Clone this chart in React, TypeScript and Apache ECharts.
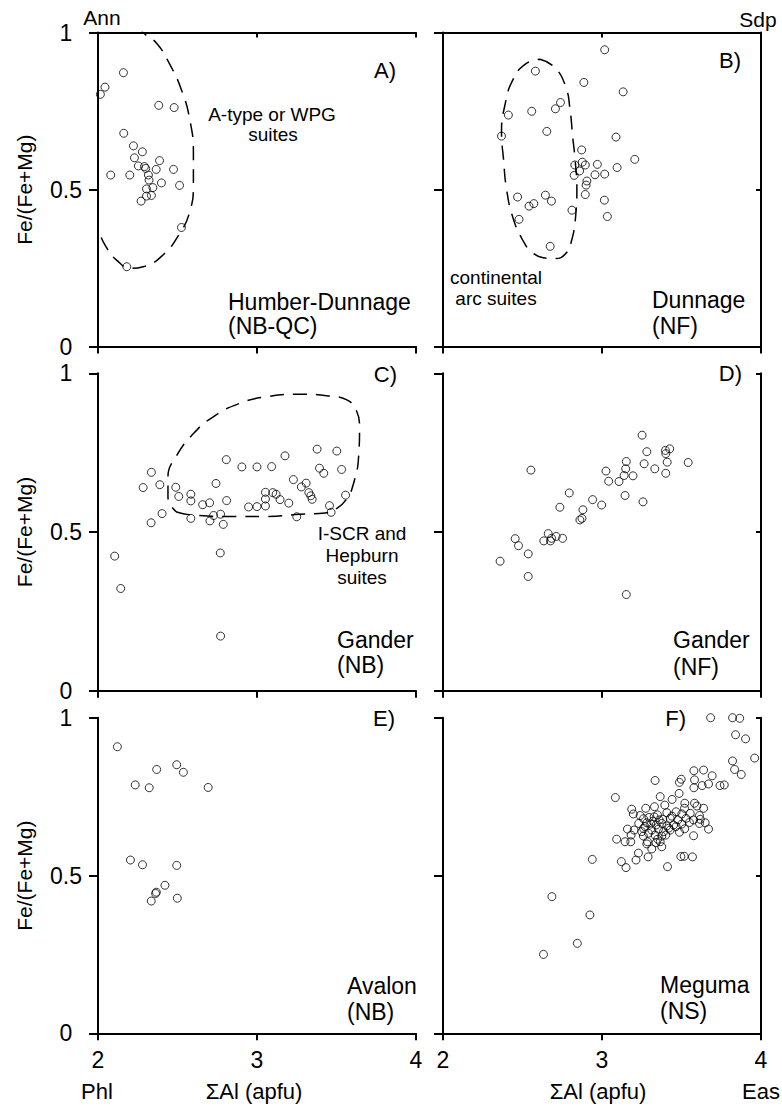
import React, { useEffect, useRef } from 'react';
import * as echarts from 'echarts';

const FONT = '"Liberation Sans", Arial, Helvetica, sans-serif';

// Panel data: [ΣAl (apfu), Fe/(Fe+Mg)]
const panelA: number[][] = [
  [2.015, 0.803], [2.044, 0.826], [2.16, 0.872], [2.382, 0.768], [2.479, 0.761],
  [2.162, 0.679], [2.223, 0.639], [2.279, 0.62], [2.229, 0.601], [2.387, 0.592],
  [2.08, 0.546], [2.2, 0.546], [2.254, 0.575], [2.292, 0.573], [2.3, 0.567],
  [2.366, 0.564], [2.475, 0.564], [2.317, 0.546], [2.321, 0.53], [2.399, 0.521],
  [2.513, 0.513], [2.345, 0.506], [2.305, 0.502], [2.271, 0.463], [2.305, 0.479],
  [2.336, 0.481], [2.525, 0.379], [2.181, 0.254],
];

const panelB: number[][] = [
  [3.017, 0.945], [2.581, 0.877], [2.886, 0.841], [3.133, 0.811], [2.739, 0.777],
  [2.707, 0.757], [2.558, 0.749], [2.411, 0.737], [2.653, 0.685], [2.368, 0.67],
  [3.088, 0.667], [2.872, 0.626], [3.206, 0.596], [2.876, 0.587], [2.829, 0.578],
  [2.895, 0.578], [2.971, 0.58], [3.095, 0.57], [2.859, 0.559], [2.825, 0.545],
  [2.956, 0.547], [3.017, 0.549], [2.905, 0.527], [2.9, 0.514], [2.895, 0.484],
  [2.469, 0.476], [2.644, 0.482], [2.682, 0.463], [2.571, 0.455], [2.541, 0.447],
  [3.015, 0.466], [2.811, 0.434], [2.478, 0.405], [3.034, 0.414], [2.674, 0.319],
];

const panelC: number[][] = [
  [2.105, 0.424], [2.143, 0.322], [2.771, 0.172], [2.769, 0.434], [2.336, 0.688],
  [2.284, 0.64], [2.389, 0.649], [2.334, 0.529], [2.403, 0.558], [2.489, 0.641],
  [2.508, 0.612], [2.584, 0.619], [2.584, 0.598], [2.584, 0.543], [2.658, 0.586],
  [2.702, 0.592], [2.704, 0.535], [2.727, 0.552], [2.742, 0.653], [2.771, 0.556],
  [2.788, 0.524], [2.807, 0.728], [2.809, 0.599], [2.905, 0.705], [2.947, 0.579],
  [3.0, 0.705], [3.0, 0.58], [3.053, 0.582], [3.053, 0.604], [3.053, 0.625],
  [3.092, 0.706], [3.099, 0.624], [3.12, 0.619], [3.145, 0.602], [3.176, 0.74],
  [3.2, 0.591], [3.229, 0.665], [3.25, 0.548], [3.279, 0.642], [3.309, 0.654],
  [3.326, 0.624], [3.338, 0.614], [3.347, 0.603], [3.378, 0.761], [3.393, 0.701],
  [3.42, 0.685], [3.456, 0.583], [3.466, 0.562], [3.502, 0.755], [3.532, 0.697],
  [3.557, 0.616],
];

const panelD: number[][] = [
  [3.252, 0.805], [3.426, 0.762], [3.399, 0.757], [3.282, 0.753], [3.401, 0.747],
  [3.41, 0.72], [3.542, 0.719], [3.153, 0.722], [3.265, 0.715], [3.332, 0.699],
  [3.149, 0.699], [3.025, 0.692], [2.553, 0.695], [3.139, 0.678], [3.195, 0.677],
  [3.401, 0.685], [3.042, 0.66], [3.107, 0.659], [2.794, 0.623], [3.145, 0.615],
  [2.941, 0.602], [2.998, 0.585], [3.258, 0.595], [2.735, 0.578], [2.88, 0.57],
  [2.874, 0.543], [2.861, 0.538], [2.662, 0.495], [2.712, 0.486], [2.752, 0.48],
  [2.683, 0.48], [2.676, 0.472], [2.634, 0.472], [2.454, 0.479], [2.475, 0.457],
  [2.536, 0.431], [2.359, 0.408], [2.536, 0.36], [3.153, 0.303],
];

const panelE: number[][] = [
  [2.122, 0.908], [2.495, 0.851], [2.369, 0.836], [2.537, 0.827], [2.234, 0.787],
  [2.322, 0.778], [2.693, 0.779], [2.204, 0.549], [2.28, 0.534], [2.495, 0.532],
  [2.421, 0.469], [2.367, 0.447], [2.362, 0.443], [2.335, 0.419], [2.499, 0.428],
];

const panelF: number[][] = [
  [3.683, 1.0], [3.821, 1.0], [3.866, 0.998], [3.84, 0.946], [3.903, 0.933],
  [3.96, 0.872], [3.821, 0.863], [3.834, 0.836], [3.876, 0.82], [3.578, 0.832],
  [3.639, 0.834], [3.693, 0.816], [3.67, 0.79], [3.582, 0.803], [3.63, 0.785],
  [3.578, 0.778], [3.742, 0.785], [3.769, 0.787], [3.334, 0.801], [3.498, 0.805],
  [3.487, 0.795], [3.485, 0.76], [3.084, 0.747], [3.366, 0.75], [3.441, 0.741],
  [3.395, 0.723], [3.521, 0.729], [3.582, 0.729], [3.275, 0.713], [3.33, 0.718],
  [3.187, 0.71], [3.519, 0.713], [3.597, 0.72], [3.639, 0.713], [3.197, 0.695],
  [3.349, 0.692], [3.408, 0.699], [3.466, 0.702], [3.502, 0.695], [3.555, 0.697],
  [3.613, 0.69], [3.261, 0.68], [3.296, 0.684], [3.328, 0.686], [3.382, 0.678],
  [3.429, 0.681], [3.477, 0.676], [3.529, 0.681], [3.576, 0.676], [3.618, 0.678],
  [3.231, 0.665], [3.282, 0.667], [3.307, 0.663], [3.34, 0.66], [3.376, 0.665],
  [3.408, 0.657], [3.45, 0.66], [3.502, 0.663], [3.613, 0.665], [3.649, 0.667],
  [3.261, 0.649], [3.313, 0.644], [3.355, 0.647], [3.387, 0.639], [3.429, 0.644],
  [3.466, 0.655], [3.67, 0.647], [3.16, 0.647], [3.202, 0.644], [3.25, 0.639],
  [3.183, 0.628], [3.292, 0.634], [3.334, 0.628], [3.376, 0.625], [3.401, 0.628],
  [3.487, 0.637], [3.576, 0.626], [3.092, 0.615], [3.145, 0.607], [3.181, 0.607],
  [3.286, 0.607], [3.282, 0.6], [3.34, 0.604], [3.376, 0.591], [3.366, 0.607],
  [3.313, 0.584], [3.229, 0.571], [3.29, 0.559], [3.214, 0.549], [3.122, 0.544],
  [3.151, 0.525], [3.412, 0.528], [3.496, 0.56], [3.517, 0.561], [3.569, 0.559],
  [2.939, 0.551], [2.685, 0.433], [2.924, 0.375], [2.845, 0.285], [2.632, 0.25],
  [3.24, 0.69], [3.32, 0.672], [3.36, 0.676], [3.44, 0.688], [3.55, 0.668],
  [3.27, 0.655], [3.42, 0.65], [3.52, 0.648], [3.35, 0.615], [3.26, 0.625],
];

// Dashed field outlines (data coordinates)
const fieldA: number[][] = [
  [2.15, 1.08], [2.284, 1.0], [2.37, 0.965], [2.45, 0.9], [2.525, 0.817], [2.578, 0.721],
  [2.6, 0.615], [2.6, 0.509], [2.574, 0.424], [2.515, 0.361], [2.41, 0.292], [2.284, 0.254],
  [2.21, 0.249], [2.115, 0.276], [2.05, 0.318], [2.01, 0.36], [1.97, 0.42],
];
const fieldB: number[][] = [
  [2.61, 0.915], [2.7, 0.89], [2.77, 0.83], [2.8, 0.75], [2.815, 0.67], [2.83, 0.6],
  [2.842, 0.5], [2.835, 0.42], [2.81, 0.34], [2.77, 0.295], [2.7, 0.28], [2.63, 0.283],
  [2.56, 0.3], [2.5, 0.34], [2.44, 0.41], [2.4, 0.5], [2.38, 0.6], [2.368, 0.68],
  [2.39, 0.77], [2.44, 0.85], [2.52, 0.9], [2.61, 0.915],
];
const fieldC: number[][] = [
  [2.494, 0.563], [2.6, 0.553], [2.85, 0.549], [3.06, 0.549], [3.27, 0.556], [3.428, 0.56],
  [3.5, 0.574], [3.565, 0.605], [3.607, 0.653], [3.639, 0.737], [3.645, 0.832], [3.624, 0.884],
  [3.565, 0.916], [3.46, 0.928], [3.27, 0.934], [3.06, 0.926], [2.89, 0.905], [2.725, 0.863],
  [2.6, 0.81], [2.49, 0.737], [2.44, 0.674], [2.44, 0.61], [2.494, 0.563],
];

const X_TICKS = { min: 2, max: 4, interval: 1 };
const Y_TICKS = { min: 0, max: 1, interval: 0.5 };

const GRID_BOXES = [
  { left: 98, top: 32.5, width: 318, height: 314 },
  { left: 443, top: 32.5, width: 318, height: 314 },
  { left: 98, top: 373.3, width: 318, height: 317.4 },
  { left: 443, top: 373.3, width: 318, height: 317.4 },
  { left: 98, top: 717.7, width: 318, height: 315.6 },
  { left: 443, top: 717.7, width: 318, height: 315.6 },
];

const PANEL_DATA = [panelA, panelB, panelC, panelD, panelE, panelF];
const FIELDS: [number, number[][]][] = [[0, fieldA], [1, fieldB], [2, fieldC]];

export default function App() {
  const ref = useRef<HTMLDivElement>(null);
  useEffect(() => {
    const chart = echarts.init(ref.current!, null, { renderer: 'svg' });
    const lineStyle = { color: '#000', width: 2 };
    const xAxis: any[] = [];
    const yAxis: any[] = [];
    GRID_BOXES.forEach((_, i) => {
      xAxis.push({
        gridIndex: i, type: 'value', ...X_TICKS, position: 'bottom',
        axisLine: { show: true, onZero: false, lineStyle },
        axisTick: { show: true, inside: false, length: 7, lineStyle },
        axisLabel: { show: i >= 4, fontSize: 23, color: '#000', margin: 15, fontFamily: FONT },
        splitLine: { show: false },
      });
      yAxis.push({
        gridIndex: i, type: 'value', ...Y_TICKS, position: 'left',
        axisLine: { show: true, onZero: false, lineStyle },
        axisTick: { show: true, inside: false, length: 9, lineStyle },
        axisLabel: { show: i % 2 === 0, fontSize: 23, color: '#000', margin: 32, align: 'center', fontFamily: FONT },
        splitLine: { show: false },
      });
    });
    [0, 1].forEach((i) => {
      xAxis.push({
        gridIndex: i, type: 'value', ...X_TICKS, position: 'top',
        axisLine: { show: true, onZero: false, lineStyle },
        axisTick: { show: true, inside: true, length: 5, lineStyle },
        axisLabel: { show: false }, splitLine: { show: false },
      });
    });
    [1, 3, 5].forEach((i) => {
      yAxis.push({
        gridIndex: i, type: 'value', ...Y_TICKS, position: 'right',
        axisLine: { show: true, onZero: false, lineStyle },
        axisTick: { show: true, inside: true, length: 5, lineStyle },
        axisLabel: { show: false }, splitLine: { show: false },
      });
    });

    const series: any[] = PANEL_DATA.map((d, i) => ({
      type: 'scatter', xAxisIndex: i, yAxisIndex: i, data: d,
      symbol: 'circle', symbolSize: 8,
      itemStyle: { color: 'rgba(255,255,255,0)', borderColor: '#000', borderWidth: 1 },
      silent: true,
    }));
    FIELDS.forEach(([i, d]) => {
      series.push({
        type: 'line', xAxisIndex: i, yAxisIndex: i, data: d, smooth: 0.5,
        symbol: 'none', clip: true, silent: true,
        lineStyle: { color: '#000', width: 1.5, type: [14, 9] },
      });
    });

    const txt = (text: string, x: number, y: number, size: number, align = 'left', rotation = 0) => ({
      type: 'text', x, y, rotation, silent: true,
      style: {
        text, fill: '#000', fontSize: size, fontFamily: FONT,
        align, textAlign: align, verticalAlign: 'middle', textVerticalAlign: 'middle',
      },
    });

    const graphic: any[] = [
      txt('Ann', 102, 17, 21, 'center'),
      txt('Sdp', 758, 19, 21, 'center'),
      txt('Fe/(Fe+Mg)', 24, 189.6, 21, 'center', Math.PI / 2),
      txt('Fe/(Fe+Mg)', 24, 532, 21, 'center', Math.PI / 2),
      txt('Fe/(Fe+Mg)', 24, 875.6, 21, 'center', Math.PI / 2),
      txt('A)', 396, 70, 22, 'right'),
      txt('B)', 741, 60, 22, 'right'),
      txt('C)', 397, 374, 22, 'right'),
      txt('D)', 742, 373, 22, 'right'),
      txt('E)', 395, 718, 22, 'right'),
      txt('F)', 686, 718, 22, 'right'),
      txt('Humber-Dunnage', 228, 302, 23),
      txt('(NB-QC)', 228, 326, 23),
      txt('Dunnage', 652, 300, 23),
      txt('(NF)', 652, 326, 23),
      txt('Gander', 337, 640, 23),
      txt('(NB)', 337, 665, 23),
      txt('Gander', 673, 640, 23),
      txt('(NF)', 673, 667, 23),
      txt('Avalon', 347, 986, 23),
      txt('(NB)', 347, 1012, 23),
      txt('Meguma', 660, 985, 23),
      txt('(NS)', 660, 1011, 23),
      txt('A-type or WPG', 272, 114, 19, 'center'),
      txt('suites', 273, 134, 19, 'center'),
      txt('continental', 496, 277, 19, 'center'),
      txt('arc suites', 496, 298, 19, 'center'),
      txt('I-SCR and', 362, 533, 19, 'center'),
      txt('Hepburn', 362, 555, 19, 'center'),
      txt('suites', 362, 577, 19, 'center'),
      txt('Phl', 97, 1091, 22, 'center'),
      txt('ΣAl (apfu)', 254, 1091, 22, 'center'),
      txt('ΣAl (apfu)', 598, 1091, 22, 'center'),
      txt('Eas', 761, 1091, 22, 'center'),
    ];

    chart.setOption({
      animation: false,
      backgroundColor: '#fff',
      grid: GRID_BOXES.map((g) => ({ ...g, containLabel: false })),
      xAxis, yAxis, series, graphic,
    });
    return () => chart.dispose();
  }, []);
  return (
    <div
      ref={ref}
      style={{ position: 'absolute', left: 0, top: 0, width: 782, height: 1109, background: '#fff' }}
    />
  );
}
